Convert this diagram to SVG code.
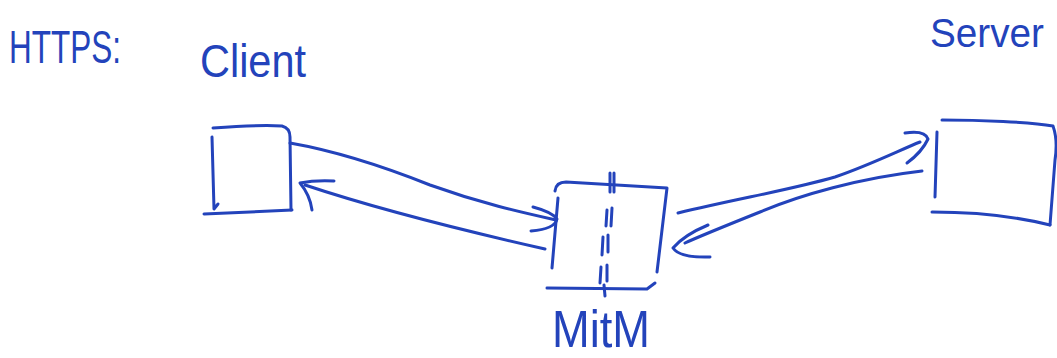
<svg xmlns="http://www.w3.org/2000/svg" width="1057" height="358" viewBox="0 0 1057 358">
<style>
.pen{fill:none;stroke:#2343bb;stroke-width:3;stroke-linecap:round;stroke-linejoin:round}
.lbl{font-family:"Liberation Sans","DejaVu Sans",sans-serif;fill:#2343bb;font-size:46px}
</style>
<rect width="1057" height="358" fill="#ffffff"/>
<g id="title">
<text class="lbl" x="9" y="63" textLength="112" lengthAdjust="spacingAndGlyphs">HTTPS:</text>
</g>
<g id="client">
<text class="lbl" x="200" y="77" textLength="106" lengthAdjust="spacingAndGlyphs">Client</text>
<path class="pen" d="M213,128 C240,126 268,125 282,126 Q290,128 290,137 L291,210"/>
<path class="pen" d="M204,214 L292,210"/>
<path class="pen" d="M212,137 L214,209 L218,204"/>
</g>
<g id="mitm">
<text class="lbl" x="552" y="347" textLength="98" lengthAdjust="spacingAndGlyphs" style="font-size:52px">MitM</text>
<path class="pen" d="M555,191 Q556,182 566,182 L667,188 L657,272"/>
<path class="pen" d="M558,198 L552,268"/>
<path class="pen" d="M547,288 L647,289 L655,283"/>
<path class="pen" d="M610,173 L610,192 M614,173 L614,192 M607,210 L606,226 M612,208 L611,226 M603,237 L602,255 M608,235 L608,252 M601,267 L600,283 M607,265 L607,281 M604,285 L605,296"/>
</g>
<g id="server">
<text class="lbl" x="930" y="47" textLength="114" lengthAdjust="spacingAndGlyphs" style="font-size:40px">Server</text>
<path class="pen" d="M942,120 C980,120 1030,122 1053,126 Q1058,140 1055,160 L1050,225"/>
<path class="pen" d="M932,212 C970,212 1010,215 1050,225"/>
<path class="pen" d="M937,132 L935,197"/>
</g>
<g id="connectors">
<path class="pen" d="M290,143 C330,150 380,165 430,185 C480,203 520,212 556,220"/>
<path class="pen" d="M533,207 Q552,212 557,219 Q555,229 531,231"/>
<path class="pen" d="M545,249 C470,232 380,210 305,185"/>
<path class="pen" d="M334,181 Q315,180 300,183 Q310,195 312,210"/>
<path class="pen" d="M678,213 C740,198 790,190 835,177 C870,165 900,150 920,142"/>
<path class="pen" d="M905,133 Q925,130 928,139 Q922,152 907,163"/>
<path class="pen" d="M922,171 C860,178 800,195 760,212 C730,224 700,236 685,243"/>
<path class="pen" d="M708,225 Q684,235 673,248 Q680,258 710,257"/>
</g>
</svg>
